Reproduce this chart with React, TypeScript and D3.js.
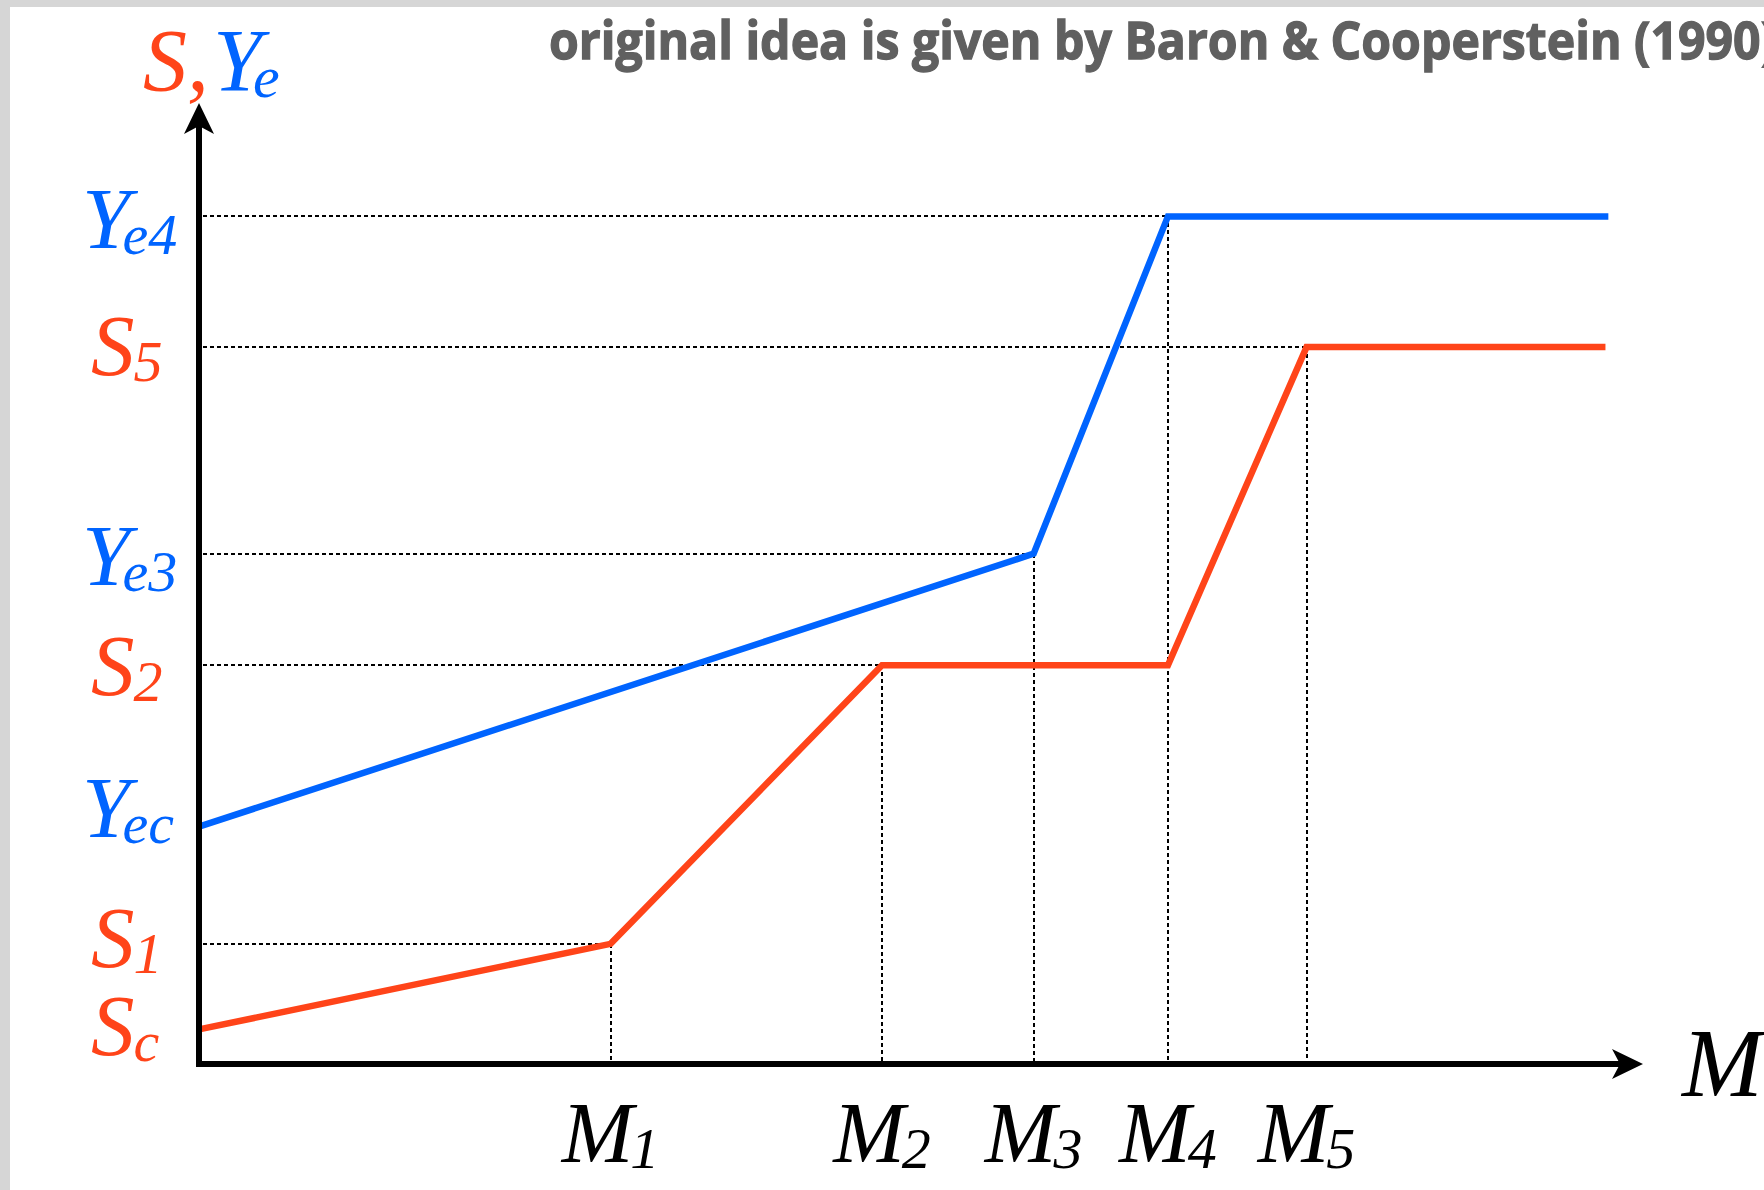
import * as d3 from "d3";

// x positions of the break points (M1..M5) and levels on the vertical axis
const mLabels = ["1", "2", "3", "4", "5"];
const mValues = [28.5, 47.3, 57.8, 67.1, 76.7];

const yeX = [0, 57.8, 67.1, 97.6];
const yeY = [24.7, 53.1, 88.2, 88.2];

const sX = [0, 28.5, 47.3, 67.1, 76.7, 97.4];
const sY = [3.6, 12.5, 41.5, 41.5, 74.6, 74.6];

const levelNames = ["Y|e4", "S|5", "Y|e3", "S|2", "Y|ec", "S|1", "S|c"];
const levelValues = [88.2, 74.6, 53.1, 41.5, 24.7, 12.5, 3.6];
// baseline nudge of each level label relative to its level
const levelDy = [32, 28, 31, 30, 10, 23, 26];

// guides: which level each M marker connects to
const guideLevel = [12.5, 41.5, 53.1, 88.2, 74.6];

const BLUE = "#0064ff";
const RED = "#ff4419";
const SERIF = "'Liberation Serif', 'Times New Roman', serif";

export default function App() {
  const width = 1764;
  const height = 1190;
  const x = d3.scaleLinear().domain([0, 100]).range([199, 1643]);
  const y = d3.scaleLinear().domain([0, 100]).range([1064, 103]);

  const line = d3.line<[number, number]>()
    .x(d => x(d[0]))
    .y(d => y(d[1]));

  const yePts = yeX.map((v, i) => [v, yeY[i]] as [number, number]);
  const sPts = sX.map((v, i) => [v, sY[i]] as [number, number]);

  const x0 = x(0);
  const y0 = y(0);

  return (
    <svg width={width} height={height} style={{position: "fixed", left: 0, top: 0, display: "block"}}>
      <rect x={0} y={0} width={width} height={height} fill="#d6d6d6"/>
      <rect x={10} y={7} width={width - 10} height={height - 7} fill="#ffffff"/>

      <text x={549} y={59} fill="#606060" stroke="#606060" strokeWidth={1.3}
            fontFamily="'Open Sans', sans-serif" fontWeight={700}
            fontSize={52} textLength={1228} lengthAdjust="spacingAndGlyphs">
        original idea is given by Baron &amp; Cooperstein (1990)
      </text>

      {/* dotted guides */}
      <g stroke="#000" strokeWidth={2} strokeDasharray="4 3" fill="none">
        {mValues.map((m, i) => {
          const gx = Math.round(x(m));
          const gy = Math.round(y(guideLevel[i]));
          return (
            <g key={i}>
              <line x1={x0 + 4} x2={gx} y1={gy} y2={gy}/>
              <line x1={gx} x2={gx} y1={gy} y2={y0 - 3}/>
            </g>
          );
        })}
      </g>

      <path d={line(sPts) ?? ""} fill="none" stroke={RED} strokeWidth={6.5} strokeLinejoin="miter"/>
      <path d={line(yePts) ?? ""} fill="none" stroke={BLUE} strokeWidth={6.5} strokeLinejoin="miter"/>

      {/* axes */}
      <path d={`M${x0},${y(98.4)} V${y0} H${x(98.5)}`} fill="none" stroke="#000" strokeWidth={6}
            strokeLinejoin="miter"/>
      <path d={`M${x0},${y(100)} L${x0 - 15},${y(100) + 31} L${x0},${y(100) + 23} L${x0 + 15},${y(100) + 31} Z`}
            fill="#000"/>
      <path d={`M${x(100)},${y0} L${x(100) - 31},${y0 - 15} L${x(100) - 23},${y0} L${x(100) - 31},${y0 + 15} Z`}
            fill="#000"/>

      {/* axis titles */}
      <text x={143} y={90} fontFamily={SERIF} fontStyle="italic" fontSize={88}>
        <tspan fill={RED}>S,</tspan>
        <tspan fill={BLUE} dx={4}>Y</tspan>
        <tspan fill={BLUE} fontSize={60} dx={-9} dy={7}>e</tspan>
      </text>
      <text x={1682} y={1096} fontFamily={SERIF} fontStyle="italic" fontSize={97} fill="#000">M</text>

      {/* level labels */}
      {levelNames.map((n, i) => {
        const [main, sub] = n.split("|");
        const col = main === "Y" ? BLUE : RED;
        return (
          <text key={n} x={main === "Y" ? 82 : 91} y={y(levelValues[i]) + levelDy[i]} fill={col}
                fontFamily={SERIF} fontStyle="italic" fontSize={87}>
            <tspan>{main}</tspan>
            <tspan fontSize={58} dx={main === "Y" ? -8 : -1} dy={6}>{sub}</tspan>
          </text>
        );
      })}

      {/* M labels */}
      {mValues.map((m, i) => (
        <text key={i} x={x(m)} y={1162} textAnchor="middle" fill="#000"
              fontFamily={SERIF} fontStyle="italic" fontSize={86}>
          <tspan>M</tspan>
          <tspan fontSize={58} dx={-3} dy={6}>{mLabels[i]}</tspan>
        </text>
      ))}
    </svg>
  );
}
